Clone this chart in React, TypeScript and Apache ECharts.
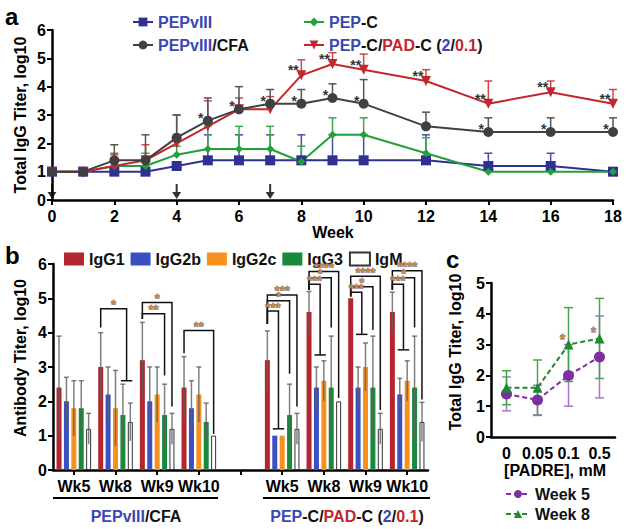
import React, { useEffect, useRef } from 'react';
import * as echarts from 'echarts';

const FONT = '"Liberation Sans", Arial, Helvetica, sans-serif';

// ---------- Panel a ----------
const weeks = [0, 1, 2, 3, 4, 5, 6, 7, 8, 9, 10, 12, 14, 16, 18];
const pepviii = [1, 1, 1, 1, 1.2, 1.4, 1.4, 1.4, 1.4, 1.4, 1.4, 1.4, 1.2, 1.2, 1.0];
const pepviiiUp = [null, null, null, null, null, 2.3, 2.3, 2.3, 2.3, 2.3, 2.3, 2.3, 1.65, 1.65, null];
const pepviiiCfa = [1, 1, 1.4, 1.4, 2.2, 2.8, 3.2, 3.4, 3.4, 3.6, 3.4, 2.6, 2.4, 2.4, 2.4];
const pepviiiCfaUp = [null, null, 1.95, 2.3, 3.0, 3.6, 4.0, 3.9, 3.9, 4.1, 4.25, 3.1, 2.9, 2.9, 2.9];
const pepC = [1, 1, 1.2, 1.2, 1.6, 1.8, 1.8, 1.8, 1.35, 2.3, 2.3, 1.65, 1.0, 1.0, 1.0];
const pepCUp = [null, null, 1.65, 1.65, 1.9, 2.6, 2.6, 2.6, 1.9, 2.9, 2.9, 2.2, null, null, null];
const pepCPad = [1, 1, 1.2, 1.4, 2.0, 2.6, 3.2, 3.2, 4.4, 4.8, 4.6, 4.2, 3.4, 3.8, 3.4];
const pepCPadUp = [null, null, 1.6, 1.95, 3.0, 3.5, 3.6, 3.65, 4.95, 5.2, 5.15, 4.6, 4.2, 4.2, 3.9];
const starsCfa = ['', '', '', '', '', '*', '*', '*', '*', '*', '*', '', '*', '*', '*'];
const starsPad = ['', '', '', '', '', '', '', '', '**', '**', '**', '**', '**', '**', '**'];
const immunizationWeeks = [0, 4, 7];

// ---------- Panel b ----------
const bCategories = ['Wk5', 'Wk8', 'Wk9', 'Wk10', '', 'Wk5', 'Wk8', 'Wk9', 'Wk10'];
const igNames = ['IgG1', 'IgG2b', 'IgG2c', 'IgG3', 'IgM'];
const igG1 = [2.4, 3.0, 3.2, 2.4, null, 3.2, 4.6, 5.0, 4.6];
const igG2b = [2.0, 2.2, 2.0, 1.8, null, 1.0, 2.4, 2.4, 2.2];
const igG2c = [1.8, 1.8, 2.2, 2.2, null, 1.0, 2.6, 3.0, 2.6];
const igG3 = [1.8, 1.6, 1.6, 1.4, null, 1.6, 2.4, 2.4, 2.4];
const igM = [1.2, 1.4, 1.2, 1.0, null, 1.2, 2.0, 1.2, 1.4];
const igG1Sd = [1.5, 1.0, 1.1, 0.9, null, 0.85, 0.6, null, 0.58];
const igG2bSd = [0.7, 0.8, 1.0, 0.8, null, null, 0.6, 0.6, 0.47];
const igG2cSd = [0.8, 1.1, 0.8, 0.8, null, null, 0.58, 0.7, 0.58];
const igG3Sd = [0.8, 0.9, 0.9, 0.55, null, 0.9, 1.5, 1.5, 1.5];
const igMSd = [0.45, 0.55, 0.45, null, null, 0.45, null, 0.45, 0.57];
// [category, fromBar, toBarA, toBarB, level, leftEnd, rightEnd, label]
const brackets: any[] = [
  [1, 0, 3, 4, 4.7, 4.15, 2.6, '*'],
  [2, 0, 4, 4, 4.88, 4.4, 1.85, '*'],
  [2, 0, 3, 3, 4.55, 4.4, 2.75, '**'],
  [3, 0, 4, 4, 4.06, 3.4, 1.05, '**'],
  [5, 0, 4, 4, 5.1, 4.25, 1.85, '***'],
  [5, 0, 3, 3, 4.93, 4.25, 2.8, '*'],
  [5, 0, 1, 2, 4.63, 4.25, 1.2, '***'],
  [6, 0, 4, 4, 5.78, 5.25, 2.1, '****'],
  [6, 0, 3, 3, 5.6, 5.25, 4.15, '*'],
  [6, 0, 1, 2, 5.41, 5.25, 3.35, '***'],
  [7, 0, 4, 4, 5.64, 5.05, 1.75, '****'],
  [7, 0, 3, 3, 5.34, 5.05, 4.08, '*'],
  [7, 0, 1, 2, 5.18, 5.05, 3.95, '***'],
  [8, 0, 4, 4, 5.8, 5.25, 2.05, '****'],
  [8, 0, 3, 3, 5.6, 5.25, 4.15, '*'],
  [8, 0, 1, 2, 5.41, 5.25, 3.5, '***'],
];

// ---------- Panel c ----------
const padre = ['0', '0.05', '0.1', '0.5'];
const week5 = [1.4, 1.2, 2.0, 2.6];
const week5Lo = [0.85, 0.72, 1.0, 1.27];
const week5Hi = [1.95, 1.68, 3.0, 3.93];
const week8 = [1.6, 1.6, 3.0, 3.2];
const week8Lo = [1.05, 0.7, 1.8, 1.9];
const week8Hi = [2.15, 2.5, 4.2, 4.5];
const starsC = ['', '', '*', '*'];

const C_BLUE = '#2e3192';
const C_GRAY = '#404040';
const C_GREEN = '#22a03a';
const C_RED = '#c1272d';
const T_BLUE = '#3a47b5';
const T_RED = '#c0272d';
const STAR_C = '#d08a30';

const igColors = ['#b3262d', '#3a4fc0', '#f7901e', '#19893c', '#ffffff'];
const PITCH = 7.4;

const richText = {
  b: { color: T_BLUE, fontWeight: 'bold', fontSize: 16, fontFamily: FONT },
  k: { color: '#111', fontWeight: 'bold', fontSize: 16, fontFamily: FONT },
  r: { color: T_RED, fontWeight: 'bold', fontSize: 16, fontFamily: FONT },
};
const richFill = {
  b: { fill: T_BLUE, fontWeight: 'bold', fontSize: 16, fontFamily: FONT },
  k: { fill: '#111', fontWeight: 'bold', fontSize: 16, fontFamily: FONT },
  r: { fill: T_RED, fontWeight: 'bold', fontSize: 16, fontFamily: FONT },
};
const legendLabels: Record<string, string> = {
  'PEPvIII': '{b|PEPvIII}',
  'PEPvIII/CFA': '{b|PEPvIII}{k|/CFA}',
  'PEP-C': '{b|PEP}{k|-C}',
  'PEP-C/PAD-C (2/0.1)': '{b|PEP}{k|-C/}{r|PAD}{k|-C (}{b|2}{k|/}{r|0.1}{k|)}',
};

const axisLabel = { color: '#000', fontWeight: 'bold', fontSize: 16, fontFamily: FONT };
const axisLine = { show: true, lineStyle: { color: '#000', width: 2.5 } };
const axisTick = { show: true, length: 5, lineStyle: { color: '#000', width: 2 } };

function lineSeries(name: string, vals: number[], color: string, symbol: string, size: number, z: number, rotate = 0) {
  return {
    type: 'line', name, xAxisIndex: 0, yAxisIndex: 0, z,
    data: weeks.map((w, i) => [w, vals[i]]),
    symbol, symbolSize: size, symbolRotate: rotate,
    lineStyle: { color, width: 2 }, itemStyle: { color },
  };
}

function upErr(vals: number[], up: (number | null)[], color: string) {
  return {
    type: 'custom', xAxisIndex: 0, yAxisIndex: 0, z: 1, silent: true,
    data: weeks.map((w, i) => [w, vals[i], up[i]]).filter((d) => d[2] != null),
    encode: { x: 0, y: 1 },
    renderItem: (_p: any, api: any) => {
      const a = api.coord([api.value(0), api.value(1)]);
      const b = api.coord([api.value(0), api.value(2)]);
      return {
        type: 'group', children: [
          { type: 'line', shape: { x1: a[0], y1: a[1], x2: b[0], y2: b[1] }, style: { stroke: color, lineWidth: 1.5 } },
          { type: 'line', shape: { x1: b[0] - 4, y1: b[1], x2: b[0] + 4, y2: b[1] }, style: { stroke: color, lineWidth: 1.5 } },
        ],
      };
    },
  };
}

function starSeries(xs: any[], vals: number[], stars: string[], xAxisIndex: number, yAxisIndex: number, dx: number, dy: number, color: string, stroke?: string) {
  return {
    type: 'custom', xAxisIndex, yAxisIndex, z: 6, silent: true,
    data: xs.map((x, i) => [i, x, vals[i]]).filter((d) => stars[d[0] as number] !== ''),
    encode: { x: 1, y: 2 },
    renderItem: (_p: any, api: any) => {
      const idx = api.value(0);
      const xv = xAxisIndex === 2 ? idx : api.value(1);
      const p = api.coord([xv, api.value(2)]);
      return {
        type: 'text', x: p[0] + dx, y: p[1] + dy + 3,
        style: {
          text: stars[idx], fill: color, align: 'center', verticalAlign: 'middle',
          font: `bold 14px ${FONT}`, stroke: stroke || undefined, lineWidth: stroke ? 0.5 : 0,
        },
      };
    },
  };
}

function rangeErr(lo: number[], hi: number[], color: string) {
  return {
    type: 'custom', xAxisIndex: 2, yAxisIndex: 2, z: 1, silent: true,
    data: padre.map((_c, i) => [i, lo[i], hi[i]]),
    encode: { x: 0, y: 2 },
    renderItem: (_p: any, api: any) => {
      const a = api.coord([api.value(0), api.value(1)]);
      const b = api.coord([api.value(0), api.value(2)]);
      const st = { stroke: color, lineWidth: 1.5 };
      return {
        type: 'group', children: [
          { type: 'line', shape: { x1: a[0], y1: a[1], x2: b[0], y2: b[1] }, style: st },
          { type: 'line', shape: { x1: a[0] - 4.5, y1: a[1], x2: a[0] + 4.5, y2: a[1] }, style: st },
          { type: 'line', shape: { x1: b[0] - 4.5, y1: b[1], x2: b[0] + 4.5, y2: b[1] }, style: st },
        ],
      };
    },
  };
}

function buildOption() {
  const igVals = [igG1, igG2b, igG2c, igG3, igM];
  const igSds = [igG1Sd, igG2bSd, igG2cSd, igG3Sd, igMSd];
  const errBData: any[] = [];
  igVals.forEach((vals, k) => {
    vals.forEach((v, c) => {
      const sd = igSds[k][c];
      if (v != null && sd != null) errBData.push([c, k, v, sd]);
    });
  });

  const arrowPath = 'path://M3.5,0 L5.5,0 L5.5,8 L9,8 L4.5,15 L0,8 L3.5,8 Z';

  return {
    animation: false,
    textStyle: { fontFamily: FONT },
    grid: [
      { left: 52, top: 30, width: 561, height: 170 },
      { left: 53, top: 264, width: 375, height: 206 },
      { left: 491, top: 283, width: 124, height: 154 },
    ],
    xAxis: [
      { gridIndex: 0, type: 'value', min: 0, max: 18, interval: 2, axisLine, axisTick, axisLabel: { ...axisLabel, margin: 8 }, splitLine: { show: false } },
      { gridIndex: 1, type: 'category', data: bCategories, axisLine, axisTick: { ...axisTick, alignWithLabel: true, interval: 0 }, axisLabel: { ...axisLabel, interval: 0, margin: 8 }, splitLine: { show: false } },
      { gridIndex: 2, type: 'category', data: padre, axisLine, axisTick: { show: false }, axisLabel: { ...axisLabel, interval: 0, margin: 8 }, splitLine: { show: false } },
    ],
    yAxis: [
      { gridIndex: 0, type: 'value', min: 0, max: 6, interval: 1, axisLine, axisTick, axisLabel: { ...axisLabel, margin: 6 }, splitLine: { show: false } },
      { gridIndex: 1, type: 'value', min: 0, max: 6, interval: 1, axisLine, axisTick, axisLabel: { ...axisLabel, margin: 6 }, splitLine: { show: false } },
      { gridIndex: 2, type: 'value', min: 0, max: 5, interval: 1, axisLine, axisTick, axisLabel: { ...axisLabel, margin: 6 }, splitLine: { show: false } },
    ],
    legend: [
      { data: ['PEPvIII'], left: 127, top: 9 },
      { data: ['PEPvIII/CFA'], left: 127, top: 32 },
      { data: ['PEP-C'], left: 298, top: 9 },
      { data: ['PEP-C/PAD-C (2/0.1)'], left: 298, top: 32 },
    ].map((l) => ({
      ...l, orient: 'horizontal', itemWidth: 20, itemHeight: 11, selectedMode: false,
      formatter: (n: string) => legendLabels[n], textStyle: { rich: richText, fontSize: 16 },
    })).concat([
      {
        data: igNames, left: 59, top: 246, orient: 'horizontal', itemWidth: 20, itemHeight: 13, itemGap: 6, selectedMode: false,
        icon: 'rect', textStyle: { color: '#111', fontWeight: 'bold', fontSize: 16, fontFamily: FONT },
      } as any,
      {
        data: ['Week 5', 'Week 8'], left: 500, top: 481, orient: 'vertical', itemWidth: 24, itemHeight: 10, itemGap: 4, selectedMode: false,
        textStyle: { color: '#111', fontWeight: 'bold', fontSize: 16, fontFamily: FONT },
      } as any,
    ]),
    graphic: [
      { type: 'text', x: 5, y: 16, style: { text: 'a', font: `bold 24px ${FONT}`, fill: '#000', align: 'left', verticalAlign: 'middle' } },
      { type: 'text', x: 5, y: 255, style: { text: 'b', font: `bold 24px ${FONT}`, fill: '#000', align: 'left', verticalAlign: 'middle' } },
      { type: 'text', x: 446, y: 259, style: { text: 'c', font: `bold 24px ${FONT}`, fill: '#000', align: 'left', verticalAlign: 'middle' } },
      { type: 'text', x: 20, y: 115, rotation: Math.PI / 2, style: { text: 'Total IgG Titer, log10', font: `bold 16px ${FONT}`, fill: '#000', align: 'center', verticalAlign: 'middle' } },
      { type: 'text', x: 20, y: 358, rotation: Math.PI / 2, style: { text: 'Antibody Titer, log10', font: `bold 16px ${FONT}`, fill: '#000', align: 'center', verticalAlign: 'middle' } },
      { type: 'text', x: 455, y: 352, rotation: Math.PI / 2, style: { text: 'Total IgG Titer, log10', font: `bold 16px ${FONT}`, fill: '#000', align: 'center', verticalAlign: 'middle' } },
      { type: 'text', x: 333, y: 232, style: { text: 'Week', font: `bold 16px ${FONT}`, fill: '#000', align: 'center', verticalAlign: 'middle' } },
      { type: 'text', x: 555, y: 470, style: { text: '[PADRE], mM', font: `bold 16px ${FONT}`, fill: '#000', align: 'center', verticalAlign: 'middle' } },
      { type: 'line', shape: { x1: 53, y1: 498, x2: 218, y2: 498 }, style: { stroke: '#000', lineWidth: 2 } },
      { type: 'line', shape: { x1: 263, y1: 498, x2: 430, y2: 498 }, style: { stroke: '#000', lineWidth: 2 } },
      { type: 'text', x: 136, y: 516, style: { text: '{b|PEPvIII}{k|/CFA}', rich: richFill, font: `bold 16px ${FONT}`, align: 'center', verticalAlign: 'middle' } },
      { type: 'text', x: 347, y: 516, style: { text: '{b|PEP}{k|-C/}{r|PAD}{k|-C (}{b|2}{k|/}{r|0.1}{k|)}', rich: richFill, font: `bold 16px ${FONT}`, align: 'center', verticalAlign: 'middle' } },
    ],
    series: [
      // panel a
      upErr(pepviii, pepviiiUp, '#4b4ba8'),
      upErr(pepC, pepCUp, '#3aaa4a'),
      upErr(pepCPad, pepCPadUp, '#d04848'),
      upErr(pepviiiCfa, pepviiiCfaUp, '#555555'),
      lineSeries('PEPvIII', pepviii, C_BLUE, 'rect', 10, 3),
      lineSeries('PEP-C', pepC, C_GREEN, 'diamond', 8, 3),
      lineSeries('PEP-C/PAD-C (2/0.1)', pepCPad, C_RED, 'triangle', 10, 4, 180),
      lineSeries('PEPvIII/CFA', pepviiiCfa, C_GRAY, 'circle', 10, 5),
      starSeries(weeks, pepviiiCfa, starsCfa, 0, 0, -7, -6, '#333'),
      starSeries(weeks, pepCPad, starsPad, 0, 0, -8, -8, '#333'),
      {
        type: 'scatter', xAxisIndex: 0, yAxisIndex: 0, z: 6, symbol: arrowPath, symbolSize: [9, 15],
        data: immunizationWeeks.map((w) => [w, 0.3]), itemStyle: { color: '#000' }, silent: true,
      },
      // panel b
      ...igNames.map((n, k) => ({
        type: 'bar', name: n, xAxisIndex: 1, yAxisIndex: 1, data: igVals[k].map((v) => (v == null ? '-' : v)),
        barWidth: 5, barGap: '48%',
        itemStyle: k === 4 ? { color: '#ffffff', borderColor: '#333', borderWidth: 1 } : { color: igColors[k] },
      })),
      {
        type: 'custom', xAxisIndex: 1, yAxisIndex: 1, z: 4, silent: true, data: errBData, encode: { x: 0, y: 2 },
        renderItem: (_p: any, api: any) => {
          const c = api.value(0), k = api.value(1), m = api.value(2), sd = api.value(3);
          const top = api.coord([c, m + sd]);
          const bot = api.coord([c, m - sd]);
          const x = top[0] + (k - 2) * PITCH;
          const st = { stroke: 'rgba(95,95,95,0.8)', lineWidth: 1.5 };
          return {
            type: 'group', children: [
              { type: 'line', shape: { x1: x, y1: bot[1], x2: x, y2: top[1] }, style: st },
              { type: 'line', shape: { x1: x - 2.5, y1: top[1], x2: x + 2.5, y2: top[1] }, style: st },
            ],
          };
        },
      },
      {
        type: 'custom', xAxisIndex: 1, yAxisIndex: 1, z: 5, silent: true,
        data: brackets.map((b, i) => [b[0], b[1], b[2], b[3], b[4], b[5], b[6], i]),
        encode: { x: 0, y: 4 },
        renderItem: (_p: any, api: any) => {
          const c = api.value(0);
          const cx = api.coord([c, 0])[0];
          const xL = cx + (api.value(1) - 2) * PITCH;
          const xA = cx + (api.value(2) - 2) * PITCH;
          const xB = cx + (api.value(3) - 2) * PITCH;
          const xR = (xA + xB) / 2;
          const yTop = api.coord([c, api.value(4)])[1];
          const yLe = api.coord([c, api.value(5)])[1];
          const yRe = api.coord([c, api.value(6)])[1];
          const st = { stroke: '#111', lineWidth: 1.5, fill: 'none' };
          const children: any[] = [
            { type: 'polyline', shape: { points: [[xL, yLe], [xL, yTop], [xR, yTop], [xR, yRe]] }, style: st },
            {
              type: 'text', x: (xL + xR) / 2, y: yTop - 4,
              style: { text: brackets[api.value(7)][7], fill: STAR_C, stroke: '#3a47a0', lineWidth: 0.5, font: `bold 13px ${FONT}`, align: 'center', verticalAlign: 'middle' },
            },
          ];
          if (xA !== xB) children.push({ type: 'line', shape: { x1: xA - 2, y1: yRe, x2: xB + 2, y2: yRe }, style: st });
          return { type: 'group', children };
        },
      },
      // panel c
      rangeErr(week5Lo, week5Hi, '#a877c8'),
      rangeErr(week8Lo, week8Hi, '#45a845'),
      {
        type: 'line', name: 'Week 5', xAxisIndex: 2, yAxisIndex: 2, z: 3, data: week5, symbol: 'circle', symbolSize: 11,
        lineStyle: { color: '#7b2fa0', width: 2, type: [5, 3] }, itemStyle: { color: '#7b2fa0' },
      },
      {
        type: 'line', name: 'Week 8', xAxisIndex: 2, yAxisIndex: 2, z: 4, data: week8, symbol: 'triangle', symbolSize: 10,
        lineStyle: { color: '#1e8a30', width: 2, type: [5, 3] }, itemStyle: { color: '#1e8a30' },
      },
      starSeries(padre, week8, starsC, 2, 2, -6, -9, STAR_C, '#3a47a0'),
    ],
  };
}

export default function App() {
  const ref = useRef<HTMLDivElement>(null);
  useEffect(() => {
    const chart = echarts.init(ref.current as HTMLDivElement, null, { renderer: 'svg' });
    chart.setOption(buildOption() as any);
    return () => chart.dispose();
  }, []);
  return <div ref={ref} style={{ position: 'absolute', left: 0, top: 0, width: 630, height: 529, background: '#fff' }} />;
}
